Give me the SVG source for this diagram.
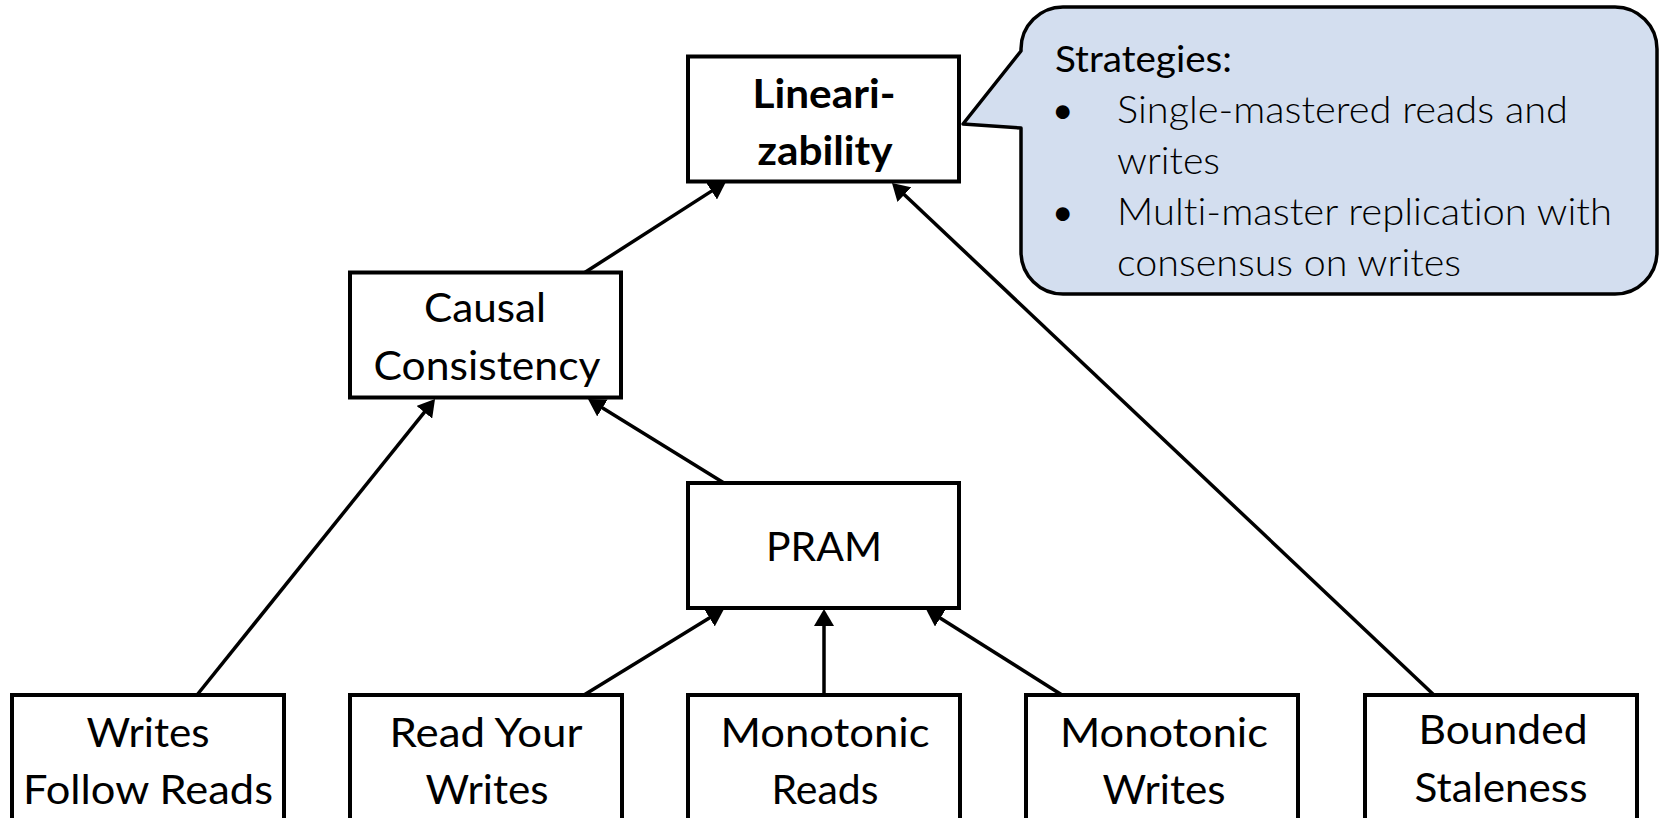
<svg xmlns="http://www.w3.org/2000/svg" width="1663" height="818" viewBox="0 0 1663 818">
  <style>
    .box { fill: #ffffff; stroke: #000000; stroke-width: 4; }
    .lbl { font-family: "Lato", "Liberation Sans", sans-serif; font-size: 40px; fill: #000000; text-anchor: middle; font-variant-ligatures: none; }
    .bold { font-weight: 700; }
    .edge { fill: none; stroke: #000000; stroke-width: 3.5; marker-end: url(#arrow); }
    .callout { fill: #D3DEEF; stroke: #000000; stroke-width: 3.5; stroke-linejoin: round; }
    .note { font-family: "Lato", "Liberation Sans", sans-serif; font-size: 37px; fill: #000000; font-variant-ligatures: none; }
    .light { font-weight: 300; }
  </style>
  <defs>
    <marker id="arrow" viewBox="0 0 17 20" refX="5" refY="10" markerWidth="17" markerHeight="20" markerUnits="userSpaceOnUse" orient="auto">
      <path d="M0,0 L17,10 L0,20 Z" fill="#000000"/>
    </marker>
  </defs>

  <rect width="1663" height="818" fill="#ffffff"/>

  <!-- connectors: weaker model points up to the stronger one -->
  <g id="connectors">
    <line class="edge" x1="584" y1="273" x2="715.8" y2="188.4"/>
    <line class="edge" x1="197" y1="695" x2="427.5" y2="408.4"/>
    <line class="edge" x1="724" y1="483" x2="598.2" y2="405.3"/>
    <line class="edge" x1="584" y1="695" x2="713.8" y2="615.3"/>
    <line class="edge" x1="824" y1="695" x2="824" y2="621"/>
    <line class="edge" x1="1062" y1="695" x2="936.1" y2="615.4"/>
    <line class="edge" x1="1434" y1="695" x2="900.7" y2="191.2"/>
  </g>

  <g id="linearizability">
    <rect class="box" x="688" y="56.5" width="271" height="125"/>
    <text class="lbl bold" x="824" y="108" textLength="143" lengthAdjust="spacingAndGlyphs">Lineari-</text>
    <text class="lbl bold" x="825" y="165" textLength="135" lengthAdjust="spacingAndGlyphs">zability</text>
  </g>

  <g id="strategies-note">
    <path class="callout" d="M1063,7 H1615 A42,42 0 0 1 1657,49 V252 A42,42 0 0 1 1615,294 H1063 A42,42 0 0 1 1021,252 V128 L963,124 L1021,51 V49 A42,42 0 0 1 1063,7 Z"/>
    <text class="note" x="1055" y="72" textLength="177" lengthAdjust="spacingAndGlyphs">Strategies:</text>
    <text class="note" x="1052" y="123">•</text>
    <text class="note light" x="1117" y="123" textLength="451" lengthAdjust="spacingAndGlyphs">Single-mastered reads and</text>
    <text class="note light" x="1117" y="174" textLength="103" lengthAdjust="spacingAndGlyphs">writes</text>
    <text class="note" x="1052" y="225">•</text>
    <text class="note light" x="1117" y="225" textLength="495" lengthAdjust="spacingAndGlyphs">Multi-master replication with</text>
    <text class="note light" x="1117" y="276" textLength="344" lengthAdjust="spacingAndGlyphs">consensus on writes</text>
  </g>

  <g id="causal-consistency">
    <rect class="box" x="350" y="272.5" width="271" height="125"/>
    <text class="lbl" x="485" y="322" textLength="122" lengthAdjust="spacingAndGlyphs">Causal</text>
    <text class="lbl" x="487" y="380" textLength="227" lengthAdjust="spacingAndGlyphs">Consistency</text>
  </g>

  <g id="pram">
    <rect class="box" x="688" y="483" width="271" height="125"/>
    <text class="lbl" x="824" y="561" textLength="116" lengthAdjust="spacingAndGlyphs">PRAM</text>
  </g>

  <g id="writes-follow-reads">
    <rect class="box" x="12" y="695" width="272" height="135"/>
    <text class="lbl" x="148" y="747" textLength="123" lengthAdjust="spacingAndGlyphs">Writes</text>
    <text class="lbl" x="148" y="804" textLength="250" lengthAdjust="spacingAndGlyphs">Follow Reads</text>
  </g>

  <g id="read-your-writes">
    <rect class="box" x="350" y="695" width="272" height="135"/>
    <text class="lbl" x="486" y="747" textLength="193" lengthAdjust="spacingAndGlyphs">Read Your</text>
    <text class="lbl" x="487" y="804" textLength="123" lengthAdjust="spacingAndGlyphs">Writes</text>
  </g>

  <g id="monotonic-reads">
    <rect class="box" x="688" y="695" width="272" height="135"/>
    <text class="lbl" x="825" y="747" textLength="209" lengthAdjust="spacingAndGlyphs">Monotonic</text>
    <text class="lbl" x="825" y="804" textLength="107" lengthAdjust="spacingAndGlyphs">Reads</text>
  </g>

  <g id="monotonic-writes">
    <rect class="box" x="1026" y="695" width="272" height="135"/>
    <text class="lbl" x="1164" y="747" textLength="208" lengthAdjust="spacingAndGlyphs">Monotonic</text>
    <text class="lbl" x="1164" y="804" textLength="123" lengthAdjust="spacingAndGlyphs">Writes</text>
  </g>

  <g id="bounded-staleness">
    <rect class="box" x="1365" y="695" width="272" height="135"/>
    <text class="lbl" x="1503" y="744" textLength="169" lengthAdjust="spacingAndGlyphs">Bounded</text>
    <text class="lbl" x="1501" y="802" textLength="173" lengthAdjust="spacingAndGlyphs">Staleness</text>
  </g>
</svg>
